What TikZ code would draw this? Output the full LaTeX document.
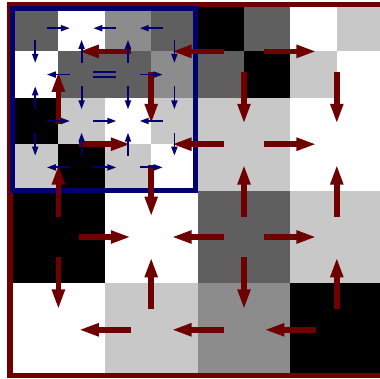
\documentclass[tikz,border=0pt]{standalone}
\usetikzlibrary{arrows.meta}
\definecolor{cK}{RGB}{0,0,0}
\definecolor{cD}{RGB}{95,95,95}
\definecolor{cM}{RGB}{140,140,140}
\definecolor{cL}{RGB}{200,200,200}
\definecolor{cW}{RGB}{255,255,255}
\definecolor{darkred}{RGB}{110,0,0}
\definecolor{darkblue}{RGB}{0,0,110}
\tikzset{
  bigarrow/.style={draw=darkred, line width=5.5pt, -{Triangle[width=12pt,length=20pt]}},
  smallarrow/.style={draw=darkblue, line width=1.8pt, -{Triangle[width=6pt,length=9pt]}},
  eqline/.style={draw=darkblue, line width=1.8pt},
  redframe/.style={draw=darkred, line width=5.3pt},
  blueframe/.style={draw=darkblue, line width=5pt},
}
\begin{document}
\begin{tikzpicture}[x=1pt,y=-1pt]
\useasboundingbox (0,0) rectangle (379,379);
\def\csz{46.4}
\def\xo{12}
\def\yo{5}
% cells
\foreach \row [count=\ri from 0] in {
  {D,W,M,D,K,D,W,L},
  {W,D,D,M,D,K,L,W},
  {K,L,W,L,L,L,W,W},
  {L,K,L,W,L,L,W,W},
  {K,K,W,W,D,D,L,L},
  {K,K,W,W,D,D,L,L},
  {W,W,L,L,M,M,K,K},
  {W,W,L,L,M,M,K,K}}{
  \foreach \cc [count=\ci from 0] in \row {
    \fill[c\cc] ({\xo+\ci*\csz},{\yo+\ri*\csz}) rectangle ++(\csz,\csz);
  }
}
% frames
\draw[redframe] (10,4.5) rectangle (386,375.5);
\draw[blueframe] (12.5,8.5) rectangle (195.5,190.5);
% red arrows, horizontal: coarse row / coarse boundary / direction
\foreach \ri/\ci/\dd in {0/1/-1,0/2/-1,0/3/1, 1/1/1,1/2/-1,1/3/1, 2/1/1,2/2/-1,2/3/1, 3/1/-1,3/2/-1,3/3/-1}{
  \draw[bigarrow] ({\xo+\ci*2*\csz-(\dd)*26},{\yo+(2*\ri+1)*\csz}) -- ++({2*(\dd)*26},0);
}
% red arrows, vertical: coarse boundary / coarse column / direction (1 = down)
\foreach \ri/\ci/\dd in {1/0/-1,1/1/1,1/2/1,1/3/1, 2/0/-1,2/1/1,2/2/-1,2/3/-1, 3/0/1,3/1/-1,3/2/1,3/3/-1}{
  \draw[bigarrow] ({\xo+(2*\ci+1)*\csz},{\yo+\ri*2*\csz-(\dd)*26}) -- ++(0,{2*(\dd)*26});
}
% blue arrows, horizontal
\foreach \ri/\ci/\dd in {0/1/1,0/2/-1,0/3/-1, 1/1/-1,1/3/1, 2/1/1,2/2/1,2/3/-1, 3/1/-1,3/2/1,3/3/1}{
  \draw[smallarrow] ({\xo+\ci*\csz-(\dd)*11.5},{\yo+(\ri+0.5)*\csz}) -- ++({2*(\dd)*11.5},0);
}
% blue arrows, vertical
\foreach \ri/\ci/\dd in {1/0/1,1/1/-1,1/2/-1,1/3/1, 2/0/-1,2/1/1,2/2/1,2/3/1, 3/0/1,3/1/-1,3/2/-1,3/3/1}{
  \draw[smallarrow] ({\xo+(\ci+0.5)*\csz},{\yo+\ri*\csz-(\dd)*11.5}) -- ++(0,{2*(\dd)*11.5});
}
% equality sign
\draw[eqline] ({\xo+2*\csz-11.5},{\yo+1.5*\csz-2.8}) -- ++(23,0);
\draw[eqline] ({\xo+2*\csz-11.5},{\yo+1.5*\csz+2.8}) -- ++(23,0);
\end{tikzpicture}
\end{document}
